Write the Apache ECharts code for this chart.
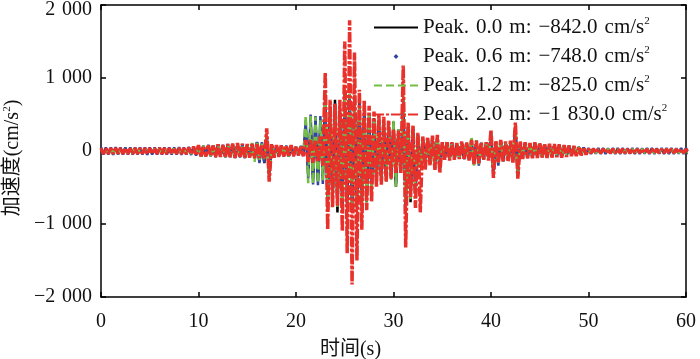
<!DOCTYPE html>
<html>
<head>
<meta charset="utf-8">
<script src="https://cdn.jsdelivr.net/npm/echarts@6/dist/echarts.min.js"></script>
<style>
  html, body { margin: 0; padding: 0; background: #fff; }
  #chart { width: 700px; height: 359px; }
</style>
</head>
<body>
<div id="chart"></div>
<script>
// time bins, 0.5 s each (0 .. 60 s)
const times = []
for (let i = 0; i <= 120; i++) times.push(i * 0.5)

// per-bin upper / lower peaks (cm/s2)
// 0.0 m (black)
const blackHi = [
  30, 28, 30, 32, 30, 28, 30, 31, 30, 29,
  30, 29, 31, 30, 28, 30, 32, 30, 35, 50,
  70, 65, 75, 70, 80, 75, 85, 90, 95, 90,
  85, 90, 120, 100, 200, 90, 70, 75, 65, 70,
  50, 60, 300, 400, 420, 350, 780, 600, 700, 600,
  800, 780, 760, 700, 600, 520, 450, 420, 400, 380,
  400, 250, 700, 350, 300, 220, 180, 170, 190, 200,
  110, 120, 110, 100, 120, 110, 130, 120, 110, 110,
  250, 120, 130, 120, 120, 330, 120, 110, 100, 100,
  100, 90, 90, 85, 80, 75, 70, 65, 55, 45,
  25, 24, 26, 25, 24, 25, 26, 24, 25, 26,
  25, 24, 26, 25, 24, 25, 26, 24, 25, 26, 25
]
const blackLo = [
  -30, -28, -30, -32, -30, -29, -30, -31, -30, -28,
  -30, -29, -31, -30, -28, -30, -31, -30, -35, -50,
  -70, -65, -65, -75, -70, -80, -75, -85, -80, -90,
  -80, -90, -150, -165, -350, -80, -70, -65, -70, -60,
  -50, -60, -300, -380, -400, -350, -800, -700, -842, -800,
  -820, -830, -800, -780, -700, -600, -450, -420, -400, -360,
  -490, -280, -830, -700, -560, -230, -180, -160, -230, -270,
  -110, -120, -110, -100, -110, -120, -170, -160, -110, -120,
  -330, -150, -140, -130, -150, -340, -100, -90, -90, -85,
  -80, -85, -80, -75, -80, -70, -60, -60, -50, -45,
  -25, -24, -26, -25, -24, -25, -26, -24, -25, -26,
  -25, -24, -26, -25, -24, -25, -26, -24, -25, -26, -25
]
// 0.6 m (blue)
const blueHi = [
  50, 48, 50, 52, 50, 48, 50, 51, 50, 49,
  50, 49, 51, 50, 48, 50, 52, 50, 55, 65,
  80, 75, 85, 80, 90, 85, 95, 100, 100, 95,
  90, 95, 125, 120, 200, 90, 80, 80, 75, 75,
  60, 70, 420, 500, 480, 480, 700, 600, 650, 550,
  700, 720, 700, 650, 550, 480, 420, 400, 380, 360,
  360, 300, 700, 350, 300, 220, 180, 170, 190, 200,
  110, 120, 110, 100, 120, 110, 140, 150, 110, 110,
  250, 130, 130, 120, 120, 330, 120, 110, 100, 100,
  100, 90, 90, 85, 80, 75, 70, 65, 55, 50,
  40, 38, 41, 40, 39, 40, 42, 40, 39, 41,
  40, 38, 41, 40, 39, 40, 42, 40, 39, 41, 40
]
const blueLo = [
  -50, -48, -52, -50, -49, -51, -50, -48, -50, -52,
  -50, -49, -51, -50, -48, -50, -52, -50, -55, -65,
  -80, -75, -75, -85, -80, -90, -85, -95, -90, -100,
  -90, -100, -165, -160, -350, -90, -75, -75, -80, -70,
  -60, -70, -380, -460, -470, -450, -740, -700, -748, -720,
  -740, -730, -720, -700, -650, -550, -450, -420, -400, -360,
  -450, -300, -740, -650, -560, -230, -180, -160, -230, -270,
  -110, -120, -110, -100, -110, -120, -190, -200, -120, -120,
  -330, -200, -140, -130, -150, -340, -100, -95, -90, -85,
  -85, -85, -80, -75, -80, -70, -60, -60, -50, -45,
  -40, -38, -41, -40, -39, -40, -42, -40, -39, -41,
  -40, -38, -41, -40, -39, -40, -42, -40, -39, -41, -40
]
// 1.2 m (green)
const greenHi = [
  35, 33, 35, 36, 35, 34, 35, 36, 35, 34,
  35, 34, 36, 35, 33, 35, 36, 35, 40, 55,
  75, 70, 80, 75, 85, 80, 90, 95, 100, 90,
  90, 110, 110, 100, 200, 90, 75, 80, 70, 75,
  55, 65, 490, 480, 470, 420, 800, 560, 560, 500,
  760, 780, 700, 650, 560, 500, 440, 420, 420, 400,
  420, 300, 800, 350, 300, 220, 180, 170, 190, 200,
  110, 120, 110, 100, 120, 110, 200, 150, 110, 110,
  250, 130, 130, 120, 120, 330, 120, 110, 100, 100,
  100, 90, 90, 85, 80, 75, 70, 65, 55, 50,
  30, 29, 31, 30, 29, 30, 31, 30, 29, 31,
  30, 29, 31, 30, 29, 30, 31, 30, 29, 31, 30
]
const greenLo = [
  -35, -33, -35, -36, -35, -34, -35, -36, -35, -34,
  -35, -34, -36, -35, -33, -35, -36, -35, -40, -55,
  -75, -70, -70, -80, -75, -85, -80, -90, -85, -95,
  -85, -150, -120, -110, -380, -85, -70, -70, -75, -65,
  -55, -65, -440, -450, -440, -400, -800, -770, -770, -800,
  -825, -810, -780, -750, -700, -580, -450, -420, -420, -400,
  -490, -300, -810, -680, -560, -230, -180, -160, -230, -270,
  -110, -120, -110, -100, -110, -120, -200, -180, -120, -120,
  -330, -170, -140, -130, -150, -340, -100, -95, -90, -85,
  -85, -85, -80, -75, -80, -70, -60, -60, -50, -45,
  -30, -29, -31, -30, -29, -30, -31, -30, -29, -31,
  -30, -29, -31, -30, -29, -30, -31, -30, -29, -31, -30
]
// 2.0 m (red)
const redHi = [
  40, 35, 40, 38, 42, 40, 35, 40, 38, 40,
  40, 38, 42, 40, 38, 40, 42, 40, 45, 60,
  80, 70, 85, 75, 90, 80, 95, 100, 110, 100,
  95, 100, 110, 90, 310, 100, 80, 85, 75, 80,
  60, 70, 150, 160, 150, 200, 1080, 700, 650, 700,
  1500, 1790, 1350, 840, 700, 620, 540, 500, 470, 420,
  300, 280, 1170, 400, 350, 250, 200, 190, 210, 220,
  120, 130, 120, 110, 130, 120, 150, 140, 120, 120,
  290, 140, 150, 130, 140, 390, 130, 120, 110, 120,
  110, 100, 100, 95, 90, 80, 75, 70, 60, 50,
  30, 28, 25, 28, 25, 27, 25, 28, 25, 26,
  25, 27, 25, 28, 25, 26, 25, 27, 25, 26, 25
]
const redLo = [
  -40, -38, -40, -35, -40, -42, -38, -40, -36, -40,
  -40, -38, -40, -42, -40, -38, -40, -42, -45, -60,
  -80, -75, -70, -85, -80, -90, -85, -95, -90, -100,
  -90, -100, -95, -100, -420, -90, -80, -75, -80, -70,
  -60, -70, -150, -160, -150, -200, -1080, -770, -750, -1100,
  -1400, -1830, -1500, -1080, -810, -700, -490, -460, -430, -380,
  -300, -300, -1320, -630, -780, -840, -260, -200, -260, -300,
  -120, -130, -120, -110, -120, -130, -180, -170, -120, -130,
  -370, -160, -150, -140, -160, -380, -110, -100, -100, -95,
  -90, -95, -90, -85, -90, -80, -70, -70, -60, -50,
  -28, -25, -27, -25, -28, -25, -26, -25, -27, -25,
  -26, -25, -27, -25, -28, -25, -26, -25, -27, -25, -25
]

const seriesNames = [
  'Peak.\u20040.0\u2004m:\u2004−842.0\u2004cm/s',
  'Peak.\u20040.6\u2004m:\u2004−748.0\u2004cm/s',
  'Peak.\u20041.2\u2004m:\u2004−825.0\u2004cm/s',
  'Peak.\u20042.0\u2004m:\u2004−1\u2004830.0\u2004cm/s'
]
const yTicks = [-2000, -1000, 0, 1000, 2000]
const yTickLabels = ['−2\u2004000', '−1\u2004000', '0', '1\u2004000', '2\u2004000']

// each bin: its upper peak, then its lower peak a quarter second later
function trace(hi, lo) {
  const pts = []
  for (let i = 0; i < times.length; i++) {
    pts.push([times[i], hi[i]])
    pts.push([times[i] + 0.25, lo[i]])
  }
  return pts
}

const serif = '"Liberation Serif", "Times New Roman", "Noto Sans CJK SC", serif'
const tick = { inside: true, length: 5, lineStyle: { color: '#000', width: 1.5 } }
const axisLine = { show: true, onZero: false, lineStyle: { color: '#000', width: 1.5 } }
const hideDot = { opacity: 0 }

const myChart = echarts.init(document.getElementById('chart'))
myChart.setOption({
  animation: false,
  grid: { left: 101, right: 14, top: 5, bottom: 62, outerBoundsMode: 'none' },
  legend: {
    orient: 'vertical',
    left: 373,
    top: 16,
    padding: 0,
    itemWidth: 44,
    itemHeight: 6,
    itemGap: 7,
    textStyle: {
      fontFamily: serif,
      fontSize: 21,
      color: '#111',
      rich: {
        t: { fontFamily: serif, fontSize: 21, color: '#111' },
        s: { fontFamily: serif, fontSize: 11, color: '#111', verticalAlign: 'top', padding: [0, 0, 12, 0] }
      }
    },
    formatter: function(name) {
      return '{t|' + name + '}{s|2}'
    },
    data: [
      { name: seriesNames[0], itemStyle: hideDot },
      { name: seriesNames[1], lineStyle: { opacity: 0 } },
      { name: seriesNames[2], itemStyle: hideDot },
      { name: seriesNames[3], itemStyle: hideDot }
    ]
  },
  xAxis: [{
    type: 'value',
    min: 0,
    max: 60,
    interval: 10,
    name: '时间(s)',
    nameLocation: 'middle',
    nameGap: 43,
    nameTextStyle: { fontFamily: serif, fontSize: 20, color: '#111', padding: [0, 86, 0, 0] },
    axisLine: axisLine,
    axisTick: tick,
    axisLabel: { fontFamily: serif, fontSize: 20, color: '#111', margin: 15 },
    splitLine: { show: false }
  }, {
    type: 'value',
    position: 'top',
    min: 0,
    max: 60,
    interval: 10,
    axisLine: axisLine,
    axisTick: tick,
    axisLabel: { show: false },
    splitLine: { show: false }
  }],
  yAxis: [{
    type: 'value',
    min: -2000,
    max: 2000,
    interval: 1000,
    name: '{a|加速度(cm/s}{s|2}{a|)}',
    nameLocation: 'middle',
    nameGap: 74,
    nameRotate: 90,
    nameTextStyle: {
      padding: [0, 14, 0, 0],
      rich: {
        a: { fontFamily: serif, fontSize: 20, color: '#111' },
        s: { fontFamily: serif, fontSize: 11, color: '#111', verticalAlign: 'top', padding: [0, 0, 12, 0] }
      }
    },
    axisLine: axisLine,
    axisTick: tick,
    axisLabel: {
      fontFamily: serif,
      fontSize: 20,
      color: '#111',
      margin: 9,
      formatter: function(v) {
        const txt = yTickLabels[yTicks.indexOf(v)]
        // top label sits a little below its tick, as in the original
        return v === 2000 ? '{top|' + txt + '}' : txt
      },
      rich: {
        top: { fontFamily: serif, fontSize: 20, color: '#111', padding: [10, 0, 0, 0] }
      }
    },
    splitLine: { show: false }
  }, {
    type: 'value',
    position: 'right',
    min: -2000,
    max: 2000,
    interval: 1000,
    axisLine: axisLine,
    axisTick: tick,
    axisLabel: { show: false },
    splitLine: { show: false }
  }],
  series: [{
    name: seriesNames[0],
    type: 'line',
    showSymbol: false,
    color: '#000',
    lineStyle: { width: 2.5, color: '#000' },
    data: trace(blackHi, blackLo)
  }, {
    name: seriesNames[1],
    type: 'line',
    symbol: 'diamond',
    showSymbol: false,
    color: '#33449e',
    lineStyle: { width: 2.5, color: '#33449e' },
    data: trace(blueHi, blueLo)
  }, {
    name: seriesNames[2],
    type: 'line',
    showSymbol: false,
    color: '#72bf44',
    lineStyle: { width: 2.5, color: '#72bf44', type: [8, 4] },
    data: trace(greenHi, greenLo)
  }, {
    name: seriesNames[3],
    type: 'line',
    showSymbol: false,
    color: '#e8312a',
    lineStyle: { width: 3.5, color: '#e8312a', type: [10, 2, 3, 2] },
    data: trace(redHi, redLo)
  }]
})
</script>
</body>
</html>
